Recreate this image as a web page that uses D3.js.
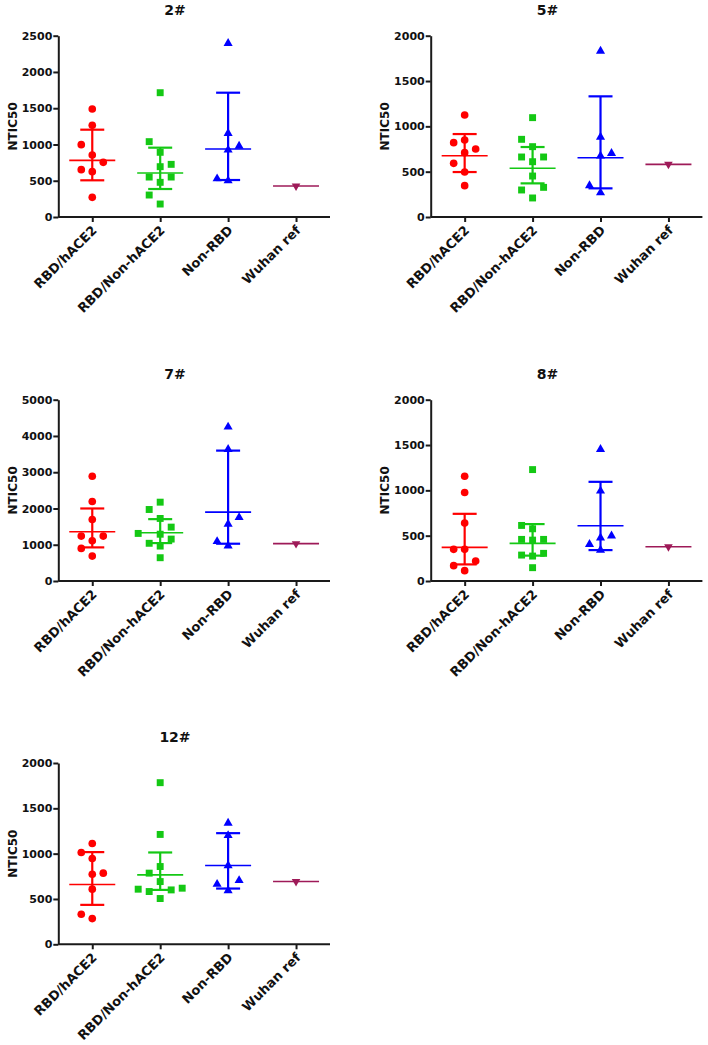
<!DOCTYPE html>
<html><head><meta charset="utf-8">
<script src="https://cdn.jsdelivr.net/npm/d3@7"></script>
<style>body{margin:0;background:#fff}</style>
</head><body><svg id="c" width="708" height="1045"></svg>
<script>
const categories = ["RBD/hACE2", "RBD/Non-hACE2", "Non-RBD", "Wuhan ref"];
const panelTitles = ["2#", "5#", "7#", "8#", "12#"];
const yMaxes = [2500, 2000, 5000, 2000, 2000];
const yTickSteps = [500, 500, 1000, 500, 500];
const yLabel = "NTIC50";

// individual values, one array per panel
const rbdHace2 = [
  [1489, 1264, 997, 855, 754, 653, 625, 271],
  [1125, 849, 820, 750, 710, 592, 496, 346],
  [2890, 2193, 1697, 1239, 1239, 1110, 899, 688],
  [1156, 976, 639, 349, 349, 220, 169, 114],
  [1112, 1013, 947, 785, 773, 608, 331, 284]
];
const rbdNonHace2 = [
  [1714, 1039, 892, 726, 694, 551, 551, 478, 303, 179],
  [1096, 857, 776, 662, 662, 610, 452, 327, 298, 210],
  [2174, 1972, 1725, 1486, 1312, 1290, 1156, 1040, 963, 642],
  [1229, 613, 576, 459, 459, 451, 305, 286, 275, 147],
  [1783, 1212, 858, 785, 692, 619, 608, 600, 582, 505]
];
const nonRbd = [
  [2394, 1154, 979, 924, 528, 500],
  [1831, 882, 702, 673, 346, 268],
  [4248, 3633, 1752, 1569, 1092, 972],
  [1453, 994, 499, 477, 404, 341],
  [1337, 1201, 869, 704, 663, 593]
];
const wuhanRef = [[427], [581], [1030], [378], [692]];

// central line and error bar ends per panel, per category
const centerLines = [
  [781, 607, 937, 427],
  [676, 537, 654, 581],
  [1358, 1330, 1899, 1030],
  [371, 415, 609, 378],
  [659, 766, 869, 692]
];
const errLow = [
  [506, 386, 510, null],
  [496, 371, 316, null],
  [927, 1046, 1028, null],
  [183, 280, 341, null],
  [435, 600, 615, null]
];
const errHigh = [
  [1204, 956, 1714, null],
  [915, 772, 1331, null],
  [2000, 1706, 3596, null],
  [741, 628, 1094, null],
  [1017, 1013, 1226, null]
];

const colors = ["#ff0000", "#14c814", "#0000ff", "#9e1a58"];
const shapes = [d3.symbolCircle, d3.symbolSquare, d3.symbolTriangle, d3.symbolTriangle];
const symSizes = [46, 48, 36, 32];

const svg = d3.select("#c");
svg.append("rect").attr("width", 708).attr("height", 1045).attr("fill", "#fff");

const W = 271.7, H = 181.3;
const axisXs = [58.3, 430.7];
const baseYs = [217, 581, 944.3];
const FONT = "DejaVu Sans, Arial, sans-serif";

panelTitles.forEach((title, p) => {
  const col = p % 2, row = Math.floor(p / 2);
  const g = svg.append("g").attr("transform", `translate(${axisXs[col]},${baseYs[row] - H})`);
  const x = d3.scalePoint().domain(categories).range([0, W]).padding(0.5);
  const y = d3.scaleLinear().domain([0, yMaxes[p]]).range([H, 0]);

  // title
  g.append("text").attr("x", 116.7).attr("y", H - 202).attr("text-anchor", "middle")
    .attr("font-family", FONT).attr("font-weight", "bold").attr("font-size", 14)
    .attr("fill", "#111").text(title);

  // y axis
  const ya = g.append("g").call(d3.axisLeft(y)
      .tickValues(d3.range(0, yMaxes[p] + 1, yTickSteps[p]))
      .tickFormat(d3.format("d"))
      .tickSize(5).tickSizeOuter(0).tickPadding(1));
  ya.select(".domain").attr("stroke", "#1a1a1a").attr("stroke-width", 2);
  ya.selectAll(".tick line").attr("stroke", "#1a1a1a").attr("stroke-width", 2);
  ya.selectAll(".tick text").attr("font-family", FONT).attr("font-weight", "bold")
    .attr("font-size", 11).attr("fill", "#111");

  // x axis
  const xa = g.append("g").attr("transform", `translate(0,${H})`)
    .call(d3.axisBottom(x).tickSize(5).tickSizeOuter(0).tickFormat(""));
  xa.select(".domain").attr("stroke", "#1a1a1a").attr("stroke-width", 2)
    .attr("d", `M0,0H${W}`);
  xa.selectAll(".tick line").attr("stroke", "#1a1a1a").attr("stroke-width", 2);
  xa.selectAll(".tick").append("text")
    .attr("transform", "translate(5,14) rotate(-45)")
    .attr("text-anchor", "end")
    .attr("font-family", FONT).attr("font-weight", "bold").attr("font-size", 13)
    .attr("fill", "#111")
    .text(d => d);

  // y label
  g.append("text").attr("transform", `translate(${-46},${H / 2}) rotate(-90)`)
    .attr("text-anchor", "middle").attr("dy", "0.35em")
    .attr("font-family", FONT).attr("font-weight", "bold").attr("font-size", 12)
    .attr("fill", "#111").text(yLabel);

  const groups = [rbdHace2[p], rbdNonHace2[p], nonRbd[p], wuhanRef[p]];
  groups.forEach((vals, ci) => {
    const cx = x(categories[ci]);
    const col = colors[ci];
    // central line
    g.append("line").attr("x1", cx - 23).attr("x2", cx + 23)
      .attr("y1", y(centerLines[p][ci])).attr("y2", y(centerLines[p][ci]))
      .attr("stroke", col).attr("stroke-width", 1.6);
    if (errLow[p][ci] != null) {
      const lo = y(errLow[p][ci]), hi = y(errHigh[p][ci]);
      g.append("line").attr("x1", cx).attr("x2", cx).attr("y1", lo).attr("y2", hi)
        .attr("stroke", col).attr("stroke-width", 2.2);
      [lo, hi].forEach(yy => g.append("line").attr("x1", cx - 12).attr("x2", cx + 12)
        .attr("y1", yy).attr("y2", yy).attr("stroke", col).attr("stroke-width", 2.2));
    }
    // simple swarm placement (ascending, alternating sides on collision)
    const placed = [];
    let nextSide = -1;
    const sorted = vals.slice().sort((a, b) => a - b);
    sorted.forEach(v => {
      const py = y(v);
      let slot = 0;
      const free = s => placed.every(q => q.slot !== s || Math.abs(q.py - py) >= 11);
      if (!free(0)) {
        const order = [nextSide, -nextSide, 2 * nextSide, -2 * nextSide];
        slot = order.find(free);
        if (slot === undefined) slot = 0;
        nextSide = -Math.sign(slot || nextSide);
      }
      placed.push({ py, slot });
    });
    placed.forEach(q => {
      const px = cx + q.slot * 11;
      g.append("path")
        .attr("d", d3.symbol().type(shapes[ci]).size(symSizes[ci])())
        .attr("transform", `translate(${px},${q.py})` + (ci === 3 ? " rotate(180)" : ""))
        .attr("fill", col);
    });
  });
});
</script>
</body></html>
